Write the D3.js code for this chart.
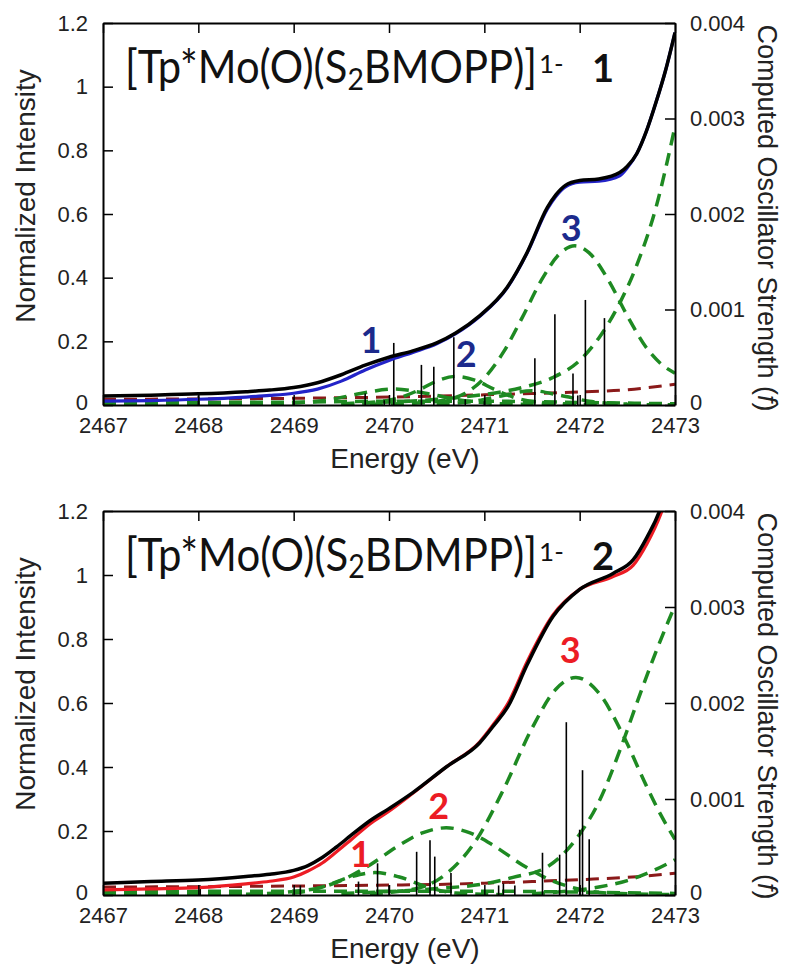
<!DOCTYPE html>
<html><head><meta charset="utf-8">
<script src="https://cdn.jsdelivr.net/npm/d3@7"></script>
<style>body{margin:0;background:#fff}</style>
</head><body>
<svg id="c" width="787" height="964"></svg>
<script>
// ---------- tick labels ----------
const energyTicks = [2467, 2468, 2469, 2470, 2471, 2472, 2473];
const intensityTicks = [0, 0.2, 0.4, 0.6, 0.8, 1, 1.2];
const strengthTicks = [0, 0.001, 0.002, 0.003, 0.004];

// ---------- panel 1 : [Tp*Mo(O)(S2BMOPP)]1- ----------
const top_black = [[2467.0,0.028],[2467.5,0.031],[2468.0,0.035],[2468.5,0.042],[2468.75,0.047],[2469.0,0.055],[2469.25,0.07],[2469.5,0.095],[2469.75,0.125],[2470.0,0.15],[2470.25,0.17],[2470.5,0.195],[2470.7,0.226],[2470.95,0.28],[2471.24,0.37],[2471.45,0.48],[2471.66,0.62],[2471.75,0.66],[2471.85,0.69],[2472.0,0.705],[2472.2,0.71],[2472.42,0.73],[2472.5,0.75],[2472.6,0.79],[2472.7,0.86],[2472.8,0.95],[2472.9,1.05],[2473.0,1.17]];
const top_blue = [[2467.0,0.012],[2467.5,0.014],[2468.0,0.018],[2468.5,0.025],[2468.75,0.03],[2469.0,0.037],[2469.25,0.05],[2469.5,0.075],[2469.75,0.11],[2470.0,0.14],[2470.25,0.165],[2470.5,0.192],[2470.7,0.224],[2470.95,0.278],[2471.24,0.368],[2471.45,0.478],[2471.66,0.615],[2471.75,0.655],[2471.85,0.685],[2472.0,0.70],[2472.2,0.703],[2472.42,0.72],[2472.5,0.745],[2472.6,0.79],[2472.7,0.86],[2472.8,0.95],[2472.9,1.05],[2473.0,1.17]];
const top_background = [[2467,0.018],[2468,0.019],[2469,0.021],[2470,0.025],[2470.5,0.028],[2471,0.032],[2471.5,0.036],[2472,0.041],[2472.5,0.048],[2473,0.065]];
const top_fitBase = [[2467,0.007],[2468,0.008],[2469,0.009],[2470,0.012],[2471,0.012],[2472,0.008],[2473,0.004]];
const top_fitPeak1 = [[2467,0.002],[2468.5,0.002],[2469.0,0.006],[2469.4,0.018],[2469.7,0.036],[2470.05,0.05],[2470.4,0.036],[2470.7,0.018],[2471.1,0.005],[2471.6,0.002],[2473,0.001]];
const top_fitPeak2 = [[2469.5,0.003],[2470.0,0.015],[2470.3,0.045],[2470.5,0.075],[2470.7,0.09],[2470.9,0.078],[2471.1,0.05],[2471.3,0.025],[2471.6,0.008],[2472.0,0.002]];
const top_fitPeak3 = [[2469.8,0.002],[2470.3,0.006],[2470.6,0.016],[2470.8,0.037],[2471.0,0.085],[2471.2,0.166],[2471.4,0.276],[2471.6,0.393],[2471.8,0.478],[2471.95,0.5],[2472.1,0.478],[2472.3,0.393],[2472.5,0.28],[2472.7,0.18],[2472.85,0.13],[2473.0,0.1]];
const top_fitPeak4 = [[2470.5,0.003],[2470.9,0.012],[2471.2,0.03],[2471.5,0.045],[2471.8,0.03],[2472.1,0.012],[2472.5,0.003]];
const top_fitEdge = [[2469.5,0.004],[2470.5,0.018],[2471.0,0.033],[2471.4,0.055],[2471.71,0.085],[2472.0,0.14],[2472.2,0.21],[2472.42,0.32],[2472.6,0.44],[2472.8,0.62],[2473.0,0.875]];
const top_sticks = [[2468.0,0.0001],[2469.0,0.00008],[2469.75,0.00012],[2469.95,0.00005],[2470.05,0.00065],[2470.34,0.00042],[2470.47,0.0004],[2470.68,0.00071],[2470.8,0.00006],[2471.0,0.00004],[2471.53,0.00049],[2471.74,0.00095],[2471.93,0.00033],[2471.98,0.0001],[2472.06,0.0011],[2472.26,0.00091]];
const top_labels = [["1",2469.81,0.208],["2",2470.81,0.163],["3",2471.91,0.56]];

// ---------- panel 2 : [Tp*Mo(O)(S2BDMPP)]1- ----------
const bot_black = [[2467.0,0.037],[2467.5,0.042],[2468.0,0.047],[2468.5,0.058],[2468.75,0.065],[2469.0,0.077],[2469.15,0.092],[2469.3,0.117],[2469.45,0.15],[2469.6,0.186],[2469.8,0.232],[2470.0,0.27],[2470.25,0.32],[2470.6,0.40],[2470.95,0.475],[2471.1,0.53],[2471.25,0.59],[2471.45,0.72],[2471.72,0.87],[2472.0,0.955],[2472.35,1.005],[2472.56,1.047],[2472.71,1.12],[2472.85,1.21],[2473.0,1.38]];
const bot_red = [[2467.0,0.016],[2467.5,0.019],[2468.0,0.023],[2468.5,0.035],[2468.75,0.043],[2469.0,0.056],[2469.15,0.075],[2469.3,0.1],[2469.45,0.135],[2469.6,0.172],[2469.8,0.222],[2470.0,0.262],[2470.25,0.318],[2470.6,0.40],[2470.95,0.478],[2471.1,0.535],[2471.25,0.6],[2471.45,0.73],[2471.72,0.875],[2472.0,0.955],[2472.35,0.995],[2472.56,1.03],[2472.71,1.1],[2472.85,1.19],[2473.0,1.33]];
const bot_background = [[2467,0.025],[2468,0.026],[2469,0.028],[2470,0.031],[2470.5,0.033],[2471,0.037],[2471.5,0.042],[2472,0.048],[2472.5,0.055],[2473,0.068]];
const bot_fitBase = [[2467,0.01],[2469,0.012],[2471,0.012],[2472,0.009],[2473,0.005]];
const bot_fitPeak1 = [[2467,0.002],[2468.5,0.002],[2469.0,0.006],[2469.3,0.025],[2469.6,0.057],[2469.85,0.07],[2470.1,0.057],[2470.4,0.025],[2470.7,0.006],[2471.2,0.001]];
const bot_fitPeak2 = [[2468.5,0.002],[2469.2,0.018],[2469.5,0.046],[2469.8,0.094],[2470.1,0.154],[2470.35,0.194],[2470.6,0.21],[2470.85,0.194],[2471.1,0.154],[2471.4,0.094],[2471.7,0.046],[2472.0,0.018],[2472.3,0.006],[2473,0.001]];
const bot_fitPeak3 = [[2469.8,0.004],[2470.3,0.021],[2470.6,0.066],[2470.9,0.165],[2471.2,0.329],[2471.5,0.521],[2471.75,0.643],[2471.96,0.68],[2472.2,0.632],[2472.45,0.503],[2472.7,0.341],[2472.85,0.251],[2473.0,0.174]];
const bot_fitPeak4 = [[2471.5,0.004],[2471.8,0.01],[2472.2,0.025],[2472.5,0.045],[2472.8,0.08],[2473.0,0.11]];
const bot_fitEdge = [[2469.5,0.005],[2470.5,0.02],[2471.0,0.035],[2471.3,0.055],[2471.66,0.088],[2472.0,0.19],[2472.2,0.29],[2472.45,0.475],[2472.6,0.6],[2472.8,0.76],[2473.0,0.905]];
const bot_sticks = [[2468.02,0.0001],[2469.07,0.0001],[2469.68,0.00014],[2469.88,0.00033],[2470.0,0.0001],[2470.29,0.00045],[2470.43,0.00057],[2470.48,0.0004],[2470.65,0.00023],[2471.15,0.0001],[2471.2,0.00012],[2471.32,0.0001],[2471.61,0.00044],[2471.79,0.00042],[2471.86,0.0018],[2472.0,0.00068],[2472.03,0.0013],[2472.1,0.00058]];
const bot_labels = [["1",2469.7,0.131],["2",2470.52,0.282],["3",2471.9,0.768]];

const svg = d3.select('#c');
const AX_FONT = '"Liberation Sans", Arial, sans-serif';
const TITLE_FONT = 'Lato, "Open Sans", sans-serif';

const panels = [
  {id:1, y0:23, y1:405, black:top_black, color:top_blue, colorCss:'#2323c8', labelCss:'#1c2a8c',
   background:top_background, peaks:[top_fitBase,top_fitPeak1,top_fitPeak2,top_fitPeak4,top_fitPeak3,top_fitEdge],
   sticks:top_sticks, labels:top_labels, formula:'BMOPP', num:'1'},
  {id:2, y0:511, y1:895, black:bot_black, color:bot_red, colorCss:'#ec1c24', labelCss:'#ec1c24',
   background:bot_background, peaks:[bot_fitBase,bot_fitPeak1,bot_fitPeak2,bot_fitPeak4,bot_fitPeak3,bot_fitEdge],
   sticks:bot_sticks, labels:bot_labels, formula:'BDMPP', num:'2'}
];

panels.forEach(p => {
  const x = d3.scaleLinear().domain([2467, 2473]).range([103, 675]);
  const yL = d3.scaleLinear().domain([0, 1.2]).range([p.y1, p.y0]);
  const yR = d3.scaleLinear().domain([0, 0.004]).range([p.y1, p.y0]);
  const g = svg.append('g');
  const clipId = 'clip' + p.id;
  svg.append('clipPath').attr('id', clipId).append('rect')
    .attr('x', 103).attr('y', p.y0).attr('width', 572).attr('height', p.y1 - p.y0);
  const plot = g.append('g').attr('clip-path', `url(#${clipId})`);
  const line = d3.line().x(d => x(d[0])).y(d => yL(d[1])).curve(d3.curveMonotoneX);

  plot.append('path').datum(p.background).attr('d', line).attr('fill', 'none')
    .attr('stroke', '#8b1a1a').attr('stroke-width', 3).attr('stroke-dasharray', '13,8');
  p.peaks.forEach(pk => {
    plot.append('path').datum(pk).attr('d', line).attr('fill', 'none')
      .attr('stroke', '#1e8a22').attr('stroke-width', 3.5).attr('stroke-dasharray', '13,8');
  });
  plot.selectAll('line.stick').data(p.sticks).join('line').attr('class', 'stick')
    .attr('x1', d => x(d[0])).attr('x2', d => x(d[0]))
    .attr('y1', yR(0)).attr('y2', d => yR(d[1]))
    .attr('stroke', '#000').attr('stroke-width', 1.6);
  plot.append('path').datum(p.color).attr('d', line).attr('fill', 'none')
    .attr('stroke', p.colorCss).attr('stroke-width', 3.2);
  plot.append('path').datum(p.black).attr('d', line).attr('fill', 'none')
    .attr('stroke', '#000').attr('stroke-width', 3.5);

  // peak numbers
  g.selectAll('text.lab').data(p.labels).join('text').attr('class', 'lab')
    .attr('x', d => x(d[1])).attr('y', d => yL(d[2]))
    .attr('text-anchor', 'middle').attr('dominant-baseline', 'central')
    .style('font-family', TITLE_FONT).style('font-weight', 'bold').style('font-size', '36px')
    .attr('fill', p.labelCss).text(d => d[0]);

  // axes
  const styleAxis = sel => {
    sel.select('.domain').attr('stroke', '#000').attr('stroke-width', 2);
    sel.selectAll('.tick line').attr('stroke', '#000').attr('stroke-width', 1.5);
    sel.selectAll('.tick text').style('font-family', AX_FONT).style('font-size', '22px').attr('fill', '#222');
  };
  g.append('g').attr('transform', `translate(0,${p.y1})`)
    .call(d3.axisBottom(x).tickValues(energyTicks).tickSize(-10).tickSizeOuter(0).tickPadding(12).tickFormat(d3.format('d')))
    .call(styleAxis);
  g.append('g').attr('transform', `translate(0,${p.y0})`)
    .call(d3.axisTop(x).tickValues(energyTicks).tickSize(-10).tickSizeOuter(0).tickFormat(''))
    .call(styleAxis);
  const la = g.append('g').attr('transform', `translate(103,0)`)
    .call(d3.axisLeft(yL).tickValues(intensityTicks).tickSize(-10).tickSizeOuter(0).tickPadding(15)
      .tickFormat(d => (d === 0 || d === 1) ? String(d) : d3.format('.1f')(d)))
    .call(styleAxis);
  const ra = g.append('g').attr('transform', `translate(675,0)`)
    .call(d3.axisRight(yR).tickValues(strengthTicks).tickSize(-10).tickSizeOuter(0).tickPadding(15)
      .tickFormat(d => d === 0 ? '0' : d3.format('.3f')(d)))
    .call(styleAxis);
  [la, ra].forEach(a => a.selectAll('.tick text').filter(d => d === 0).attr('dy', '0.2em'));

  // axis titles
  g.append('text').attr('x', 389 + 16).attr('y', p.y1 + 63).attr('text-anchor', 'middle')
    .style('font-family', AX_FONT).style('font-size', '28px').attr('fill', '#222').text('Energy (eV)');
  g.append('text').attr('transform', `translate(35,${p.y0 + 173}) rotate(-90)`).attr('text-anchor', 'middle')
    .style('font-family', AX_FONT).style('font-size', '28px').attr('fill', '#222').text('Normalized Intensity');
  const rt = g.append('text').attr('transform', `translate(758,${p.y0 + 195}) rotate(90)`).attr('text-anchor', 'middle')
    .style('font-family', AX_FONT).style('font-size', '27px').attr('fill', '#222');
  rt.append('tspan').text('Computed Oscillator Strength (');
  rt.append('tspan').style('font-style', 'italic').text('f');
  rt.append('tspan').text(')');

  // compound title
  const tx = 125, base = p.y0 + 60;
  const tg = g.append('g').attr('transform', `translate(${tx},${base}) scale(1,1.12)`);
  const t = tg.append('text').attr('x', 0).attr('y', 0)
    .style('font-family', TITLE_FONT).style('font-size', '40px').attr('fill', '#111');
  t.append('tspan').text('[Tp*Mo(O)(S');
  t.append('tspan').attr('dy', '0.22em').style('font-size', '0.68em').text('2');
  t.append('tspan').attr('dy', '-0.15em').text(p.formula + ')]');
  const w0 = t.node().getComputedTextLength();
  const fs = 40 * 412 / w0;
  t.style('font-size', fs + 'px');
  const w = t.node().getComputedTextLength();
  g.append('text').attr('x', tx + w + 2).attr('y', p.y0 + 50)
    .style('font-family', TITLE_FONT).style('font-size', (fs * 0.62) + 'px').attr('fill', '#111').text('1-');
  g.append('text').attr('x', 592).attr('y', p.y0 + 59)
    .style('font-family', TITLE_FONT).style('font-weight', 'bold').style('font-size', '38px').attr('fill', '#111').text(p.num);
});
</script>
</body></html>
